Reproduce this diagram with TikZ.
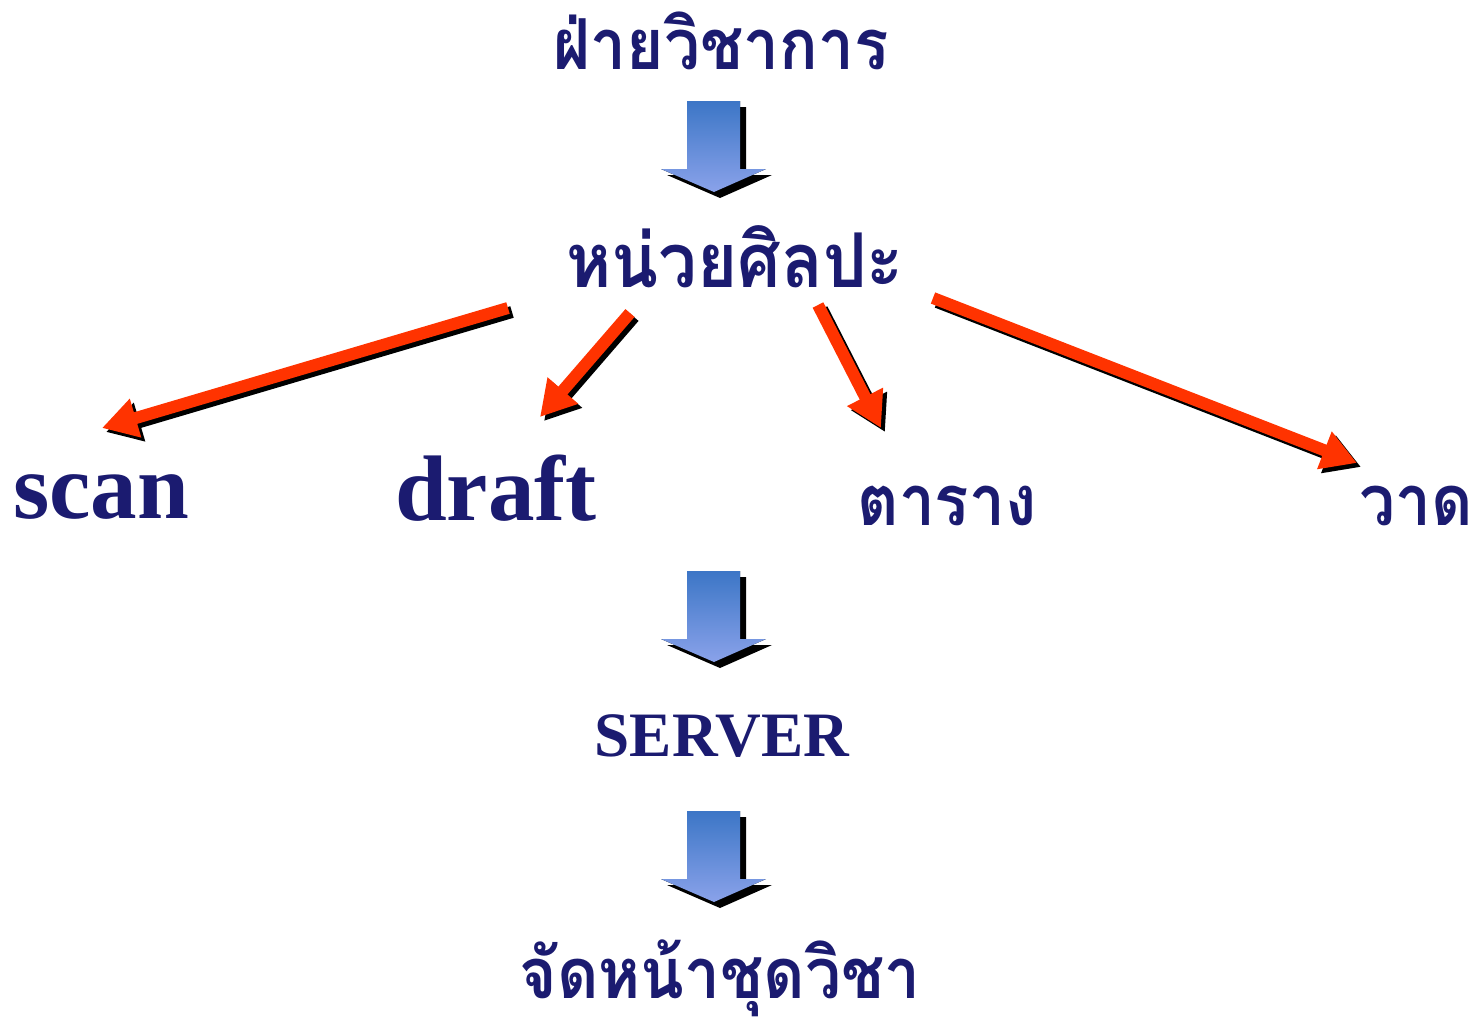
\documentclass[tikz,border=0pt]{standalone}
\usepackage{fontspec}
\setmainfont{Liberation Serif}
\newfontfamily\thaifont[Script=Thai,FakeStretch=0.91]{Loma}
\usetikzlibrary{arrows.meta}
\definecolor{navy}{RGB}{27,27,112}
\definecolor{redarrow}{RGB}{255,51,0}
\definecolor{blocktop}{RGB}{60,118,198}
\definecolor{blockbot}{RGB}{138,162,234}
\newcommand\blockarrow[2]{%
	\begin{scope}[shift={(#1,#2)}]
		\fill[black] (-21,6) -- (32,6) -- (32,74) -- (58,74) -- (6,97) -- (-47,74) -- (-21,74) -- cycle;
		\fill[top color=blocktop, bottom color=blockbot] (-27,0) -- (26,0) -- (26,68) -- (52,68) -- (0,91) -- (-53,68) -- (-27,68) -- cycle;
	\end{scope}}
\tikzset{
	thaitext/.style={anchor=base, text=navy, font=\thaifont\bfseries\fontsize{40pt}{40pt}\selectfont},
	bigword/.style={anchor=base, text=navy, font=\bfseries\fontsize{53pt}{53pt}\selectfont},
	smallword/.style={anchor=base, text=navy, font=\bfseries\fontsize{36pt}{36pt}\selectfont},
	redarrow/.style={draw=redarrow, line width=0.24cm, -{Triangle[width=0.76cm,length=0.7cm]}},
	arrowshadow/.style={draw=black, line width=0.24cm, -{Triangle[width=0.76cm,length=0.7cm]}},
	shadow/.style={xshift=0.08cm, yshift=-0.08cm}
}

\begin{document}
\begin{tikzpicture}[x=0.02cm, y=-0.02cm]
	%%%%% START %%%%%
	\useasboundingbox (0,0) rectangle (1478,1031);
	
	\node[thaitext] (faculty) at (721,70) {ฝ่ายวิชาการ};
	\blockarrow{714}{101}
	\node[thaitext, font=\thaifont\bfseries\fontsize{43pt}{43pt}\selectfont] (art) at (735,287) {หน่วยศิลปะ};
	
	\node[bigword] (scan) at (101,518) {scan};
	\node[bigword] (draft) at (496,520) {draft};
	\node[thaitext] (table) at (947,525) {ตาราง};
	\node[thaitext] (drawing) at (1416,525) {วาด};
	
	\coordinate (scan tail) at (508,308);
	\coordinate (scan tip) at (102,428);
	\coordinate (draft tail) at (630,313);
	\coordinate (draft tip) at (540,417);
	\coordinate (table tail) at (818,305);
	\coordinate (table tip) at (881,428);
	\coordinate (drawing tail) at (933,298);
	\coordinate (drawing tip) at (1357,463);
	
	\draw[arrowshadow] ([shadow]scan tail) -- ([shadow]scan tip);
	\draw[redarrow] (scan tail) -- (scan tip);
	\draw[arrowshadow] ([shadow]draft tail) -- ([shadow]draft tip);
	\draw[redarrow] (draft tail) -- (draft tip);
	\draw[arrowshadow] ([shadow]table tail) -- ([shadow]table tip);
	\draw[redarrow] (table tail) -- (table tip);
	\draw[arrowshadow] ([shadow]drawing tail) -- ([shadow]drawing tip);
	\draw[redarrow] (drawing tail) -- (drawing tip);
	
	\blockarrow{714}{571}
	\node[smallword] (server) at (722,756) {SERVER};
	\blockarrow{714}{811}
	\node[thaitext] (layout) at (720,998) {จัดหน้าชุดวิชา};
	%%%%% END %%%%%
\end{tikzpicture}
\end{document}
